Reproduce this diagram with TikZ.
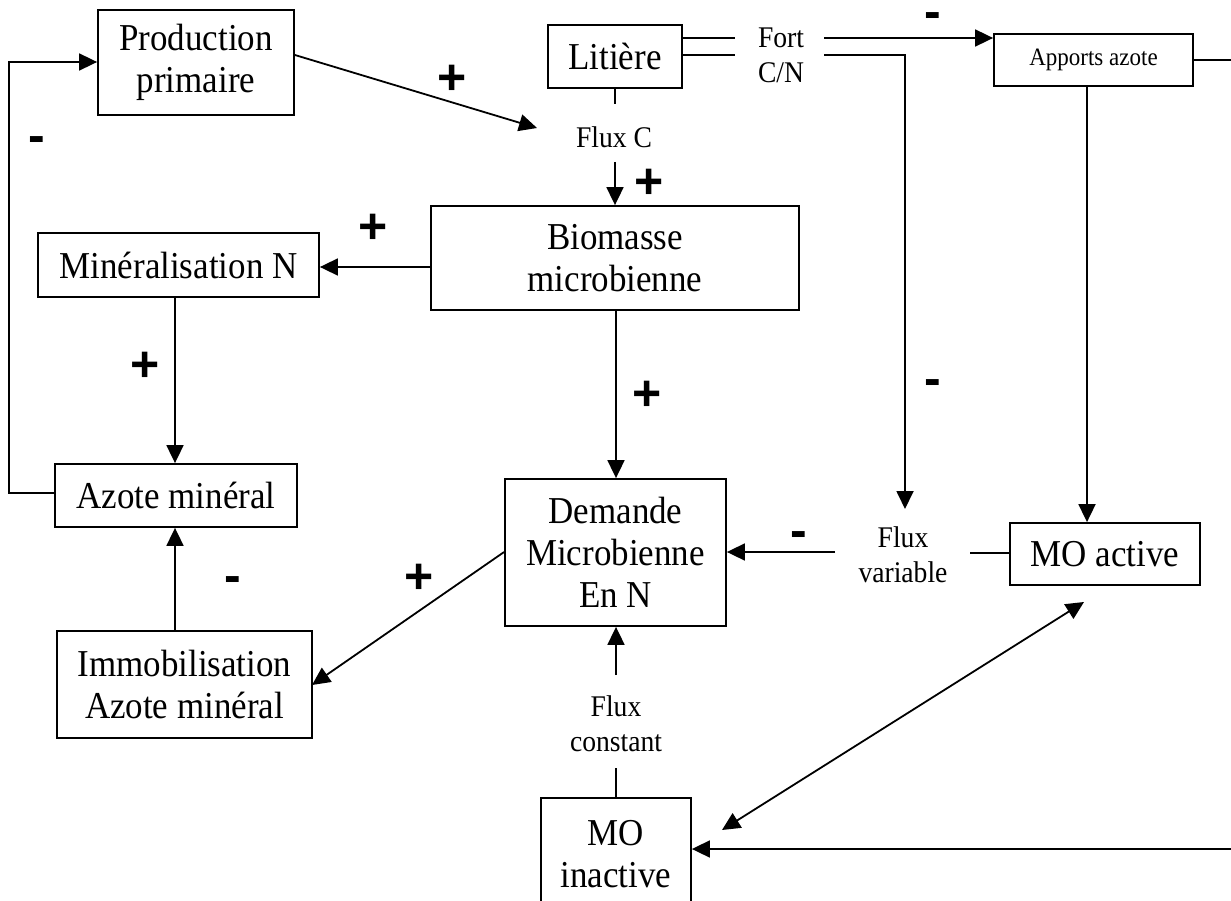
\documentclass[tikz,border=0pt]{standalone}
\usepackage{fontspec}
\setmainfont{Liberation Serif}[FakeStretch=0.92]
\newfontfamily\signfont{Liberation Sans}
\usetikzlibrary{arrows.meta}
\begin{document}
\begin{tikzpicture}[x=1pt,y=-1pt, line width=1.8pt,
 box/.style={draw, line width=1.8pt, inner sep=0pt, align=center, font=\fontsize{38}{42}\selectfont},
 lbl/.style={inner sep=0pt, align=center, font=\fontsize{30}{35}\selectfont},
 sign/.style={inner sep=0pt, font=\signfont\bfseries\fontsize{50}{50}\selectfont},
 arr/.style={-{Triangle[length=18pt,width=17pt]}},
 darr/.style={{Triangle[length=18pt,width=17pt]}-{Triangle[length=18pt,width=17pt]}}]
\useasboundingbox (0,0) rectangle (1231,901);
\clip (0,0) rectangle (1231,901);

% boxes
\node[box, minimum width=196pt, minimum height=105pt] (prod) at (196,62.5) {Production\\primaire};
\node[box, minimum width=134pt, minimum height=63pt] (lit) at (615,56.5) {Liti\`ere};
\node[box, minimum width=199pt, minimum height=52pt, font=\fontsize{25}{28}\selectfont] (apports) at (1093.5,60) {Apports azote};
\node[box, minimum width=368pt, minimum height=104pt] (bio) at (615,258) {Biomasse\\microbienne};
\node[box, minimum width=281pt, minimum height=64pt] (min) at (178.5,265) {Min\'eralisation N};
\node[box, minimum width=242pt, minimum height=63pt] (azote) at (176,495.5) {Azote min\'eral};
\node[box, minimum width=221pt, minimum height=147pt] (dem) at (615.5,552.5) {Demande\\Microbienne\\En N};
\node[box, minimum width=255pt, minimum height=107pt] (immob) at (184.5,684.5) {Immobilisation\\Azote min\'eral};
\node[box, minimum width=190pt, minimum height=62pt] (moa) at (1105,554) {MO active};
\node[box, minimum width=150pt, minimum height=112pt] (moi) at (616,854) {MO\\inactive};

% text labels
\node[lbl] (fluxc) at (614,137) {Flux C};
\node[lbl] (fortcn) at (781,55.5) {Fort\\C/N};
\node[lbl] (fluxvar) at (903,555) {Flux\\variable};
\node[lbl] (fluxcst) at (616,724) {Flux\\constant};

% coordinates
\coordinate (c1) at (9,493);
\coordinate (c2) at (9,62);
\coordinate (prodtip) at (537,128);
\coordinate (lfc) at (615,104);
\coordinate (fcs) at (615,162);
\coordinate (lt1) at (735,38);
\coordinate (lt2) at (735,55);
\coordinate (rt1) at (824,38);
\coordinate (rt2) at (824,55);
\coordinate (corner) at (905,55);
\coordinate (fvtip) at (905,509);
\coordinate (fvl) at (835,552);
\coordinate (fvr) at (970,553);
\coordinate (immobtip) at (312,685);
\coordinate (fcst1) at (616,675);
\coordinate (fcst2) at (616,768);
\coordinate (dA) at (1084,602);
\coordinate (dB) at (722,830);
\coordinate (offr1) at (1240,60);
\coordinate (offr2) at (1240,849);

% connectors
\draw[arr] (azote.west |- c1) -- (c1) -- (c2) -- (prod.west |- c2);
\draw[arr] (prod.east |- 0,55) -- (prodtip);
\draw (lit.south) -- (lfc);
\draw[arr] (fcs) -- (bio.north -| fcs);
\draw (lit.east |- lt1) -- (lt1);
\draw (lit.east |- lt2) -- (lt2);
\draw[arr] (rt1) -- (apports.west |- rt1);
\draw[arr] (rt2) -- (corner) -- (fvtip);
\draw[arr] (bio.west |- 0,267) -- (min.east |- 0,267);
\draw[arr] (min.south -| 175,0) -- (azote.north -| 175,0);
\draw[arr] (bio.south -| 616,0) -- (dem.north -| 616,0);
\draw[arr] (immob.north -| 175,0) -- (azote.south -| 175,0);
\draw[arr] (dem.west |- 0,552) -- (immobtip);
\draw[arr] (fvl) -- (dem.east |- fvl);
\draw (moa.west |- fvr) -- (fvr);
\draw[arr] (apports.south -| 1087,0) -- (moa.north -| 1087,0);
\draw (apports.east) -- (offr1);
\draw[darr] (dA) -- (dB);
\draw[arr] (offr2) -- (moi.east |- offr2);
\draw[arr] (fcst1) -- (dem.south -| fcst1);
\draw (moi.north) -- (fcst2);

% signs
\node[sign] (s1) at (37,145) {-};
\node[sign] (s2) at (452,80) {+};
\node[sign] (s3) at (649,184) {+};
\node[sign] (s4) at (933,21) {-};
\node[sign] (s5) at (933,388) {-};
\node[sign] (s6) at (373,229) {+};
\node[sign] (s7) at (145,367) {+};
\node[sign] (s8) at (647,396) {+};
\node[sign] (s9) at (233,585) {-};
\node[sign] (s10) at (419,579) {+};
\node[sign] (s11) at (799,540) {-};
\end{tikzpicture}
\end{document}
